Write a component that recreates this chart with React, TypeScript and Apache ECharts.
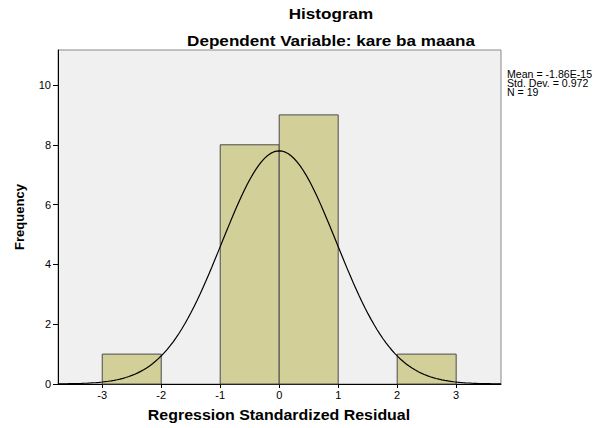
import React, { useEffect, useRef } from "react";
import * as echarts from "echarts";

const binStarts = [-3, -2, -1, 0, 1, 2];
const binEnds = [-2, -1, 0, 1, 2, 3];
const frequencies = [1, 0, 8, 9, 0, 1];
const xTicks = [-3, -2, -1, 0, 1, 2, 3];
const yTicks = [0, 2, 4, 6, 8, 10];
const statsLines = ["Mean = -1.86E-15", "Std. Dev. = 0.972", "N = 19"];
const meanVal = -1.86e-15;
const stdDev = 0.972;
const nObs = 19;
const binWidth = 1;

const FONT = "Liberation Sans, Arial, sans-serif";
const SX = 1.14;

export default function App() {
  const ref = useRef<HTMLDivElement>(null);
  useEffect(() => {
    if (!ref.current) return;
    const chart = echarts.init(ref.current, undefined, { renderer: "svg" });
    const xMin = -3.75;
    const xMax = 3.76;
    const curve: number[][] = [];
    const steps = 150;
    for (let i = 0; i <= steps; i++) {
      const x = xMin + ((xMax - xMin) * i) / steps;
      const z = (x - meanVal) / stdDev;
      const y = (nObs * binWidth * Math.exp(-0.5 * z * z)) / (stdDev * Math.sqrt(2 * Math.PI));
      curve.push([x, y]);
    }
    const barData = binStarts.map((s, i) => [s, binEnds[i], frequencies[i]]);
    const centerText = (text: string, x: number, y: number, font: string) => ({
      type: "text",
      x,
      y,
      scaleX: SX,
      style: { text, font, fill: "#000", textAlign: "center", textVerticalAlign: "middle" },
    });
    chart.setOption({
      animation: false,
      textStyle: { fontFamily: FONT },
      grid: {
        left: 58,
        right: 95,
        top: 50,
        bottom: 44,
        outerBoundsMode: "none",
        containLabel: false,
        show: true,
        backgroundColor: "#f0f0f0",
        borderColor: "#8a8a8a",
        borderWidth: 1,
      },
      xAxis: {
        type: "value",
        min: xMin,
        max: xMax,
        axisLine: { show: true, onZero: false, lineStyle: { color: "#000", width: 1 } },
        axisTick: { show: true, length: 4, lineStyle: { color: "#000" }, customValues: xTicks },
        axisLabel: { color: "#000", fontSize: 11, fontFamily: FONT, margin: 5, customValues: xTicks },
        splitLine: { show: false },
      },
      yAxis: {
        type: "value",
        min: 0,
        max: 11.17,
        name: "Frequency",
        nameLocation: "middle",
        nameGap: 32,
        nameTextStyle: { fontFamily: FONT, fontWeight: "bold", fontSize: 13, color: "#000" },
        axisLine: { show: true, onZero: false, lineStyle: { color: "#000", width: 1 } },
        axisTick: { show: true, length: 5, lineStyle: { color: "#000" }, customValues: yTicks },
        axisLabel: { color: "#000", fontSize: 11, fontFamily: FONT, margin: 7, customValues: yTicks },
        splitLine: { show: false },
      },
      series: [
        {
          type: "custom",
          data: barData,
          encode: { x: [0, 1], y: 2 },
          renderItem: (params: any, api: any) => {
            const v = api.value(2);
            if (!v) return null;
            const p0 = api.coord([api.value(0), 0]);
            const p1 = api.coord([api.value(1), v]);
            return {
              type: "rect",
              shape: { x: p0[0], y: p1[1], width: p1[0] - p0[0], height: p0[1] - p1[1] },
              style: { fill: "#d3cf99", stroke: "#4a4a4a", lineWidth: 1 },
            };
          },
          z: 2,
        },
        {
          type: "line",
          data: curve,
          showSymbol: false,
          symbol: "none",
          smooth: false,
          lineStyle: { color: "#000", width: 1.2 },
          z: 3,
        },
      ],
      graphic: [
        centerText("Histogram", 331, 13, `bold 15px ${FONT}`),
        centerText("Dependent Variable: kare ba maana", 331, 40, `bold 15px ${FONT}`),
        centerText("Regression Standardized Residual", 279, 415, `bold 14px ${FONT}`),
        ...statsLines.map((t, i) => ({
          type: "text",
          x: 507,
          y: 75 + i * 9,
          scaleX: 1.06,
          style: { text: t, font: `10px ${FONT}`, fill: "#000", textAlign: "left", textVerticalAlign: "middle" },
        })),
      ],
    });
    return () => chart.dispose();
  }, []);
  return <div ref={ref} style={{ position: "fixed", left: 0, top: 0, width: 596, height: 428, background: "#fff" }} />;
}
